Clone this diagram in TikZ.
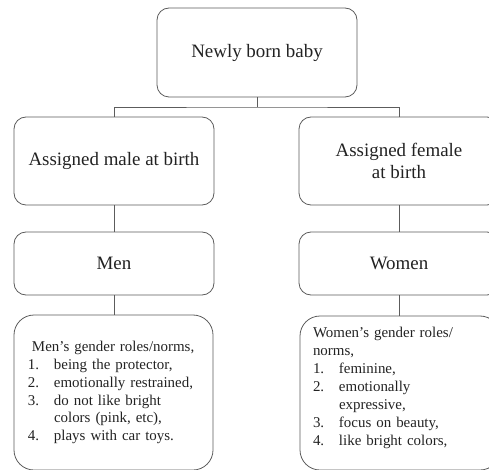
\documentclass[tikz,border=0pt]{standalone}
\usepackage{fontspec}
\setmainfont{Liberation Serif}
\usepackage{array}
\definecolor{edgegray}{HTML}{5C5C5C}
\definecolor{inkgray}{HTML}{222222}

\begin{document}
\begin{tikzpicture}[x=1bp, y=-1bp,
  box/.style={
    rectangle,
    draw=edgegray,
    line width=0.8bp,
    rounded corners=12bp,
    minimum width=200bp,
    align=center,
    text=inkgray,
    font=\fontsize{19}{22}\selectfont},
  roles/.style 2 args={
    box,
    rounded corners=20bp,
    minimum height=155bp,
    text width=#1,
    inner xsep=#2,
    align=left,
    font=\fontsize{15}{18}\selectfont},
  link/.style={draw=edgegray, line width=0.8bp}]
  \useasboundingbox (0,0) rectangle (489,470);
  % draw the root
  \node[box, minimum height=89bp] (baby) at (257,52.5) {Newly born baby};
  % draw assigned sex at birth
  \node[box, minimum height=88bp] (male) at (114,161) {Assigned male at birth};
  \node[box, minimum height=88bp] (female) at (399,161) {Assigned female\\at birth};
  % draw gender
  \node[box, minimum height=63bp] (men) at (114,263.5) {Men};
  \node[box, minimum height=63bp] (women) at (399,263.5) {Women};
  % draw gender roles
  \node[roles={171bp}{14bp}, minimum width=199bp] (menroles) at (113.5,392.5) {%
    \begin{tabular}{@{}p{26bp}@{}l@{}}
      \multicolumn{2}{@{\hspace{4bp}}l@{}}{Men's gender roles/norms,}\\
      1. & being the protector,\\
      2. & emotionally restrained,\\
      3. & do not like bright\\
         & colors (pink, etc),\\
      4. & plays with car toys.
    \end{tabular}};
  \node[roles={174bp}{13bp}, minimum height=154bp] (womenroles) at (400,393) {%
    \begin{tabular}{@{}p{26bp}@{}l@{}}
      \multicolumn{2}{@{}l@{}}{Women's gender roles/}\\
      \multicolumn{2}{@{}l@{}}{norms,}\\
      1. & feminine,\\
      2. & emotionally\\
         & expressive,\\
      3. & focus on beauty,\\
      4. & like bright colors,\rule[-16bp]{0pt}{0pt}
    \end{tabular}};
  % draw the branching links
  \coordinate (bus) at (257,107);
  \draw[link] (baby.south) -- (bus);
  \draw[link] (male.north) |- (bus) -| (female.north);
  % draw the straight links
  \draw[link] (male.south) -- (men.north);
  \draw[link] (female.south) -- (women.north);
  \draw[link] (men.south) -- (men.south |- menroles.north);
  \draw[link] (women.south) -- (women.south |- womenroles.north);
\end{tikzpicture}
\end{document}
